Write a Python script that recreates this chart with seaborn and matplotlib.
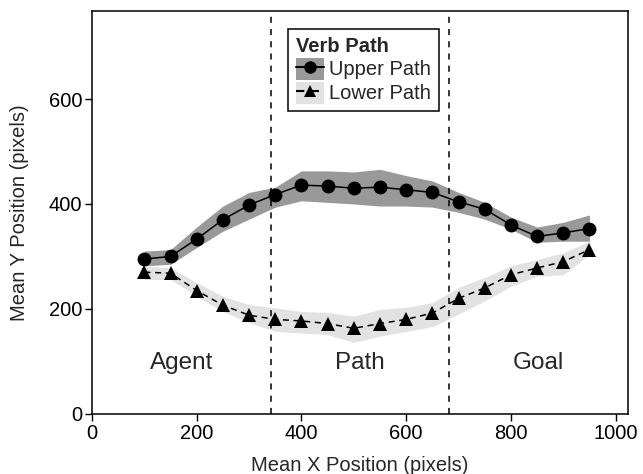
import numpy as np
import pandas as pd
import matplotlib
matplotlib.use("Agg")
import matplotlib.pyplot as plt
import seaborn as sns
from matplotlib.patches import Patch
from matplotlib.lines import Line2D
from matplotlib.legend_handler import HandlerTuple

x_pos = [100, 150, 200, 250, 300, 350, 400, 450, 500, 550, 600, 650, 700, 750, 800, 850, 900, 950]
upper_mean = [295, 300, 333, 370, 398, 418, 436, 434, 430, 432, 427, 422, 404, 390, 360, 338, 345, 353]
upper_lo = [282, 285, 317, 348, 371, 394, 406, 403, 400, 396, 396, 394, 384, 371, 352, 327, 329, 329]
upper_hi = [310, 313, 356, 396, 422, 432, 463, 463, 461, 466, 454, 444, 422, 403, 375, 356, 365, 379]
lower_mean = [270, 268, 235, 207, 188, 180, 177, 172, 163, 172, 180, 192, 220, 240, 265, 278, 290, 313]
lower_lo = [256, 256, 224, 195, 174, 157, 154, 151, 136, 148, 157, 166, 190, 215, 243, 262, 265, 304]
lower_hi = [281, 279, 250, 224, 208, 202, 195, 193, 186, 199, 203, 212, 241, 260, 282, 294, 307, 329]
series = ["Upper Path", "Lower Path"]
regions = ["Agent", "Path", "Goal"]
screen_w, screen_h = 1024, 768

df = pd.DataFrame({
    "x": x_pos * 2,
    "y": upper_mean + lower_mean,
    "Verb Path": [series[0]] * len(x_pos) + [series[1]] * len(x_pos),
})

sns.set_style("white")
plt.rcParams["font.family"] = ["Liberation Sans", "DejaVu Sans"]

fig = plt.figure(figsize=(6.43, 4.74), dpi=100)
ax = fig.add_axes([0.143, 0.127, 0.834, 0.850])

band_colors = {"Upper Path": "#999999", "Lower Path": "#e2e2e2"}
ax.fill_between(x_pos, upper_lo, upper_hi, color=band_colors["Upper Path"], lw=0, zorder=1)
ax.fill_between(x_pos, lower_lo, lower_hi, color=band_colors["Lower Path"], lw=0, zorder=1)

sns.lineplot(data=df, x="x", y="y", hue="Verb Path", style="Verb Path",
             palette={s: "black" for s in series},
             markers={"Upper Path": "o", "Lower Path": "^"},
             dashes={"Upper Path": "", "Lower Path": (4, 3)},
             markersize=10, markeredgewidth=0, linewidth=1.1,
             legend=False, ax=ax, zorder=3)

bounds = [screen_w / 3, 2 * screen_w / 3]
for b in bounds:
    ax.axvline(b, color="black", ls=(0, (4, 4)), lw=1.1, zorder=2)
centers = [screen_w / 6, screen_w / 2, 5 * screen_w / 6]
for c, name in zip(centers, regions):
    ax.text(c, 96, name, ha="center", va="center", fontsize=17.5)

ax.set_xlim(0, screen_w)
ax.set_ylim(0, screen_h)
ax.set_xticks([0, 200, 400, 600, 800, 1000])
ax.set_yticks([0, 200, 400, 600])
ax.tick_params(axis="both", direction="out", length=5, width=1, labelsize=14.5, colors="black", left=True, bottom=True, pad=2)
ax.set_xlabel("Mean X Position (pixels)", fontsize=14.5, labelpad=10)
ax.set_ylabel("Mean Y Position (pixels)", fontsize=14.5, labelpad=14)
for sp in ax.spines.values():
    sp.set_color("black")
    sp.set_linewidth(1.1)

handles = []
for s, m, ls in zip(series, ["o", "^"], ["-", (0, (4, 3))]):
    handles.append((Patch(facecolor=band_colors[s], edgecolor="none"),
                    Line2D([], [], color="black", marker=m, ls=ls, markersize=9, markeredgewidth=0)))
leg = ax.legend(handles, series, title="Verb Path", loc="upper center",
                bbox_to_anchor=(0.506, 0.955), borderaxespad=0, frameon=True, fontsize=14.5,
                title_fontproperties={"weight": "bold", "size": 14.5},
                handler_map={tuple: HandlerTuple(ndivide=1)},
                handlelength=1.4, handleheight=1.3, handletextpad=0.25,
                labelspacing=0.1, borderpad=0.38, fancybox=False, framealpha=1)
leg.get_frame().set_edgecolor("black")
leg.get_frame().set_linewidth(1.1)
leg._legend_box.align = "left"

fig.savefig("out.png", dpi=100)
